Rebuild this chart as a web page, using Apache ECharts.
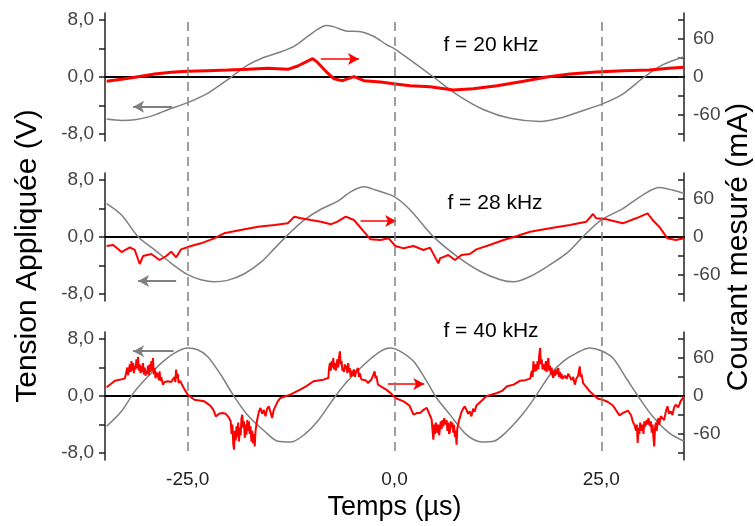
<!DOCTYPE html>
<html>
<head>
<meta charset="utf-8">
<title>Tension appliquée / courant mesuré</title>
<script src="https://cdn.jsdelivr.net/npm/echarts@6/dist/echarts.min.js"></script>
<style>
  html, body { margin: 0; padding: 0; background: #fff; }
  #main { width: 755px; height: 526px; }
</style>
</head>
<body>
<div id="main"></div>
<script>
// ticks
var xTicks = [-25, 0, 25];
var vLabelTicks = [-8, 0, 8];
var vTicks = [-8, -4, 0, 4, 8];
var iLabelTicks = [-60, 0, 60];
var iTicks = [-90, -60, -30, 0, 30, 60, 90];
var freqLabels = ['f = 20 kHz', 'f = 28 kHz', 'f = 40 kHz'];

// f = 20 kHz : tension (V) et courant (mA) en fonction du temps (µs)
var v20 = [[-34.8,-5.9],[-33.0,-6.1],[-31.4,-6.0],[-29.4,-5.5],[-27.4,-4.6],[-25.0,-3.6],[-22.6,-2.3],[-20.2,-0.4],
  [-19.4,0.3],[-17.7,1.7],[-16.1,2.6],[-14.1,3.4],[-12.1,4.35],[-10.5,5.7],[-9.3,6.7],[-8.3,7.25],[-7.3,7.05],
  [-5.7,6.45],[-4.3,6.4],[-2.5,5.7],[-0.9,4.5],[0.1,3.9],[1.9,2.4],[4.7,0],[7.6,-2.5],[10.8,-4.6],[14.0,-5.8],
  [17.6,-6.25],[20.4,-5.65],[22.8,-4.7],[25.0,-3.85],[27.6,-2.4],[30.2,0],[32.4,1.7],[35.0,2.85]];
var i20 = [[-34.8,-6.8],[-33.0,-3.7],[-31.0,0.5],[-29.0,4.7],[-27.0,7.4],[-25.0,8.9],[-22.6,10],[-20.2,11],
  [-17.7,12.1],[-15.3,13.7],[-12.9,12.1],[-11.7,17.4],[-9.9,29],[-9.3,23],[-8.3,9],[-7.3,-3],[-6.3,-5.8],
  [-4.9,0.5],[-3.7,-5.8],[-1.7,-7.9],[0.1,-11],[1.9,-13.7],[4.3,-15.3],[7.1,-20.5],[9.5,-18.4],[12.4,-13.7],
  [15.6,-6.8],[18.4,0],[21.2,4.7],[24.4,7.9],[27.6,10],[30.8,11],[33.2,13.7],[35.0,15.3]];

// f = 28 kHz
var v28 = [[-34.8,4.7],[-33.0,3.1],[-31.0,0.05],[-29.0,-1.8],[-27.0,-3.7],[-25.0,-5.3],[-23.4,-6.0],[-21.8,-6.3],
  [-20.2,-6.1],[-18.2,-5.2],[-16.1,-3.5],[-14.5,-1.6],[-12.9,0.3],[-10.9,2.4],[-8.9,3.9],[-6.9,5.0],[-5.3,6.35],
  [-3.7,7.05],[-2.3,6.6],[0,5.65],[1.9,3.8],[4.7,0.05],[7.6,-2.75],[10.4,-4.85],[12.8,-6.0],[14.4,-6.3],
  [16.4,-5.55],[18.8,-3.9],[20.9,-2.2],[22.8,0.05],[25.0,2.4],[27.6,4.0],[30.0,5.9],[32.0,6.95],[33.6,6.6],[35.0,6.1]];
var i28 = [[-34.8,-14.2],[-34.0,-12.6],[-33.0,-23.7],[-32.0,-16.3],[-31.4,-20.5],[-30.8,-42.6],[-30.4,-30],
  [-29.4,-26.8],[-28.4,-36.3],[-27.6,-30],[-27.0,-23.2],[-26.4,-32.1],[-25.8,-19.5],[-24.6,-14.2],[-23.4,-10],
  [-21.8,-2.1],[-20.6,5.8],[-18.6,11],[-16.5,16.3],[-14.5,18.9],[-12.9,21.6],[-12.1,32.1],[-11.3,29.5],
  [-10.1,26.8],[-8.9,24.2],[-7.7,20],[-6.9,24.2],[-5.9,32.1],[-4.9,26.8],[-3.7,8.4],[-2.9,-3.7],[-1.7,-4.7],
  [-0.7,-2.1],[0.1,-14.2],[1.1,-17.9],[2.3,-14.2],[3.5,-20.5],[4.3,-16.8],[5.3,-41.6],[5.5,-33.7],[6.5,-28.4],
  [7.3,-36.3],[8.1,-28.4],[9.1,-26.8],[9.9,-19.5],[11.5,-12.6],[13.2,-4.7],[14.8,1.6],[16.4,8.4],[18.8,13.7],
  [21.2,18.9],[23.2,24.2],[24.0,36.3],[24.4,29.5],[25.6,27.9],[27.6,21.6],[29.2,29.5],[30.6,37.4],[31.2,26.8],
  [32.0,16.3],[33.0,-2.1],[34.0,-4.7],[35.0,-2.1]];

// f = 40 kHz
var v40 = [[-34.8,-4.26],[-33.0,-2.15],[-31.4,0.65],[-29.8,2.76],[-28.2,4.63],[-26.6,6.04],[-25.0,6.74],[-23.8,6.5],
  [-22.6,5.57],[-21.0,2.99],[-19.4,-0.05],[-17.8,-2.62],[-15.7,-4.96],[-14.1,-6.36],[-12.5,-6.46],[-10.9,-5.43],
  [-9.3,-3.56],[-7.3,-0.28],[-5.7,2.06],[-3.7,4.4],[-1.7,6.27],[-0.5,6.74],[0.7,6.27],[2.3,4.87],[3.9,2.06],
  [5.1,-0.28],[6.7,-2.62],[8.7,-5.43],[10.6,-6.46],[12.0,-6.36],[13.6,-4.96],[15.6,-2.39],[17.2,0.19],[18.8,2.99],
  [20.4,4.87],[22.0,6.04],[23.6,6.74],[25.0,6.36],[26.4,5.33],[28.0,2.53],[29.6,-0.28],[31.2,-2.85],[33.2,-5.19],[35.0,-6.36]];
var i40 = [[-34.8,13.7],[-33.8,24.2],[-32.6,27.4],[-32.4,30],[-32.3,45],[-32.2,33],[-32.0,50],[-31.9,38],[-31.8,55],
  [-31.7,40],[-31.6,52],[-31.5,36],[-31.4,48],[-31.3,42],[-31.2,58],[-31.1,44],[-31.0,62],[-30.9,40],[-30.8,50],
  [-30.7,36],[-30.6,47],[-30.5,38],[-30.4,52],[-30.3,34],[-30.2,45],[-30.1,32],[-30.0,40],[-29.9,35],[-29.8,48],
  [-29.7,33],[-29.6,50],[-29.5,38],[-29.4,55],[-29.3,40],[-29.2,60],[-29.1,34],[-29.0,44],[-28.9,28],[-28.8,38],
  [-28.7,30],[-28.6,36],[-28.5,25],[-28.4,39],[-28.3,24],[-28.2,30],[-28.0,18],[-27.8,22],[-27.4,23.2],[-27.0,22],
  [-26.8,25],[-26.6,30],[-26.5,22],[-26.4,41.6],[-26.3,28],[-26.2,35],[-26.1,20.5],[-25.9,24],[-25.6,15.3],
  [-25.0,2.1],[-24.2,-5.8],[-23.0,-8.4],[-22.6,-12],[-22.2,-16.3],[-21.9,-22],[-21.6,-32.1],[-21.2,-28],
  [-20.8,-26.8],[-20.4,-28],[-20.0,-34.7],[-19.8,-40],[-19.7,-60],[-19.6,-45],[-19.5,-75],[-19.4,-84.7],
  [-19.3,-55],[-19.2,-70],[-19.1,-48],[-19.0,-65],[-18.9,-42],[-18.8,-71.6],[-18.7,-50],[-18.6,-62],[-18.5,-35],
  [-18.4,-29.5],[-18.3,-50],[-18.2,-40],[-18.1,-66],[-18.0,-45],[-17.9,-61],[-17.8,-38],[-17.7,-55],[-17.6,-40],
  [-17.5,-60],[-17.4,-48],[-17.3,-72],[-17.2,-55],[-17.1,-75],[-17.0,-60],[-16.9,-79.5],[-16.8,-55],[-16.7,-45],
  [-16.6,-37.4],[-16.4,-25],[-16.2,-18.9],[-16.0,-28],[-15.8,-22],[-15.6,-32.1],[-15.4,-20],[-15.2,-16.3],
  [-15.0,-25],[-14.8,-34.7],[-14.6,-22],[-14.4,-16.3],[-14.1,-8],[-13.8,-3.2],[-12.6,2.1],[-11.4,10],[-10.6,16],
  [-9.8,23.2],[-8.6,25.8],[-8.0,28.4],[-7.9,45],[-7.8,52.1],[-7.7,40],[-7.6,55],[-7.5,45],[-7.4,60],[-7.3,42],
  [-7.2,52],[-7.1,40],[-7.0,49.5],[-6.9,58],[-6.8,45],[-6.7,62],[-6.6,70.5],[-6.5,50],[-6.4,55],[-6.3,40],
  [-6.2,44.2],[-6.1,38],[-6.0,50],[-5.9,42],[-5.8,48],[-5.7,36],[-5.6,52.1],[-5.5,38],[-5.4,44],[-5.3,30],
  [-5.2,40],[-5.1,32],[-5.0,33.7],[-4.9,42],[-4.8,30],[-4.6,40],[-4.4,44.2],[-4.3,30],[-4.2,36],[-4.0,26],
  [-3.8,23.2],[-3.5,25],[-3.2,20.5],[-2.8,26],[-2.6,32],[-2.4,38.9],[-2.3,28],[-2.2,32],[-2.0,17.9],[-1.5,14],
  [-1.0,10],[-0.5,5],[0.1,-3.2],[1.1,-8.4],[1.8,-15],[2.3,-29.5],[2.7,-27],[3.1,-26.8],[3.5,-22],[3.9,-18.9],
  [4.2,-28],[4.5,-37.4],[4.6,-55],[4.7,-69],[4.8,-45],[4.9,-60],[5.0,-42],[5.1,-40],[5.2,-58],[5.3,-45],
  [5.4,-62],[5.5,-61],[5.6,-40],[5.7,-52],[5.8,-38],[5.9,-48],[6.0,-35],[6.1,-34.7],[6.2,-45],[6.3,-38],
  [6.4,-55],[6.5,-42],[6.6,-60],[6.7,-55.8],[6.8,-40],[6.9,-50],[7.0,-42],[7.1,-58],[7.2,-45.3],[7.3,-65],
  [7.4,-55],[7.5,-76.8],[7.6,-50],[7.7,-45],[7.8,-38],[7.9,-34.7],[8.1,-25],[8.3,-20],[8.5,-16.3],[8.7,-22],
  [8.9,-28],[9.1,-24],[9.3,-32.1],[9.5,-20],[9.7,-25],[9.9,-15],[10.1,-13.7],[10.5,-8],[11.1,-0.5],[12.4,4.7],
  [13.0,8],[13.6,15.3],[14.4,18],[15.2,24.2],[15.8,25],[16.4,27.4],[16.6,40],[16.7,30],[16.8,54.7],[16.9,38],
  [17.0,50],[17.1,40],[17.2,44.2],[17.3,55],[17.4,42],[17.5,65],[17.6,75.8],[17.7,50],[17.8,58],[17.9,42],
  [18.0,38.9],[18.1,50],[18.2,40],[18.3,55],[18.4,38],[18.5,52],[18.6,60],[18.7,40],[18.8,48],[18.9,34],
  [19.0,45],[19.1,32],[19.2,28.4],[19.3,40],[19.4,32],[19.5,42],[19.6,34],[19.7,40],[19.8,44.2],[19.9,30],
  [20.0,38],[20.1,28],[20.2,35],[20.3,27],[20.4,25.8],[20.6,32],[20.8,27],[21.0,35],[21.2,33.7],[21.4,25],
  [21.6,30],[21.8,17.9],[22.0,28],[22.2,32],[22.3,40],[22.4,46.8],[22.5,30],[22.6,35],[22.8,20.5],[23.2,14],
  [23.6,7.4],[24.2,0],[24.6,-4.2],[25.2,-6],[25.8,-9.5],[26.4,-15],[27.2,-30.5],[27.6,-27],[28.2,-23.2],
  [28.6,-30],[28.8,-40],[29.0,-45.3],[29.2,-55],[29.3,-45],[29.4,-74.2],[29.5,-50],[29.6,-60],[29.7,-42],
  [29.8,-40],[29.9,-55],[30.0,-45],[30.1,-60],[30.2,-40],[30.3,-48],[30.4,-50.5],[30.5,-38],[30.6,-45],
  [30.7,-35],[30.8,-32.1],[30.9,-48],[31.0,-40],[31.1,-58],[31.2,-45],[31.3,-65],[31.4,-79.5],[31.5,-50],
  [31.6,-42],[31.7,-55],[31.8,-40],[31.9,-35],[32.0,-45],[32.2,-32],[32.4,-29.5],[32.6,-38],[32.8,-25],
  [33.0,-16.3],[33.2,-28],[33.4,-24.2],[33.6,-30],[33.8,-18],[34.0,-13.7],[34.3,-18],[34.6,-8],[35.0,-0.5]];

(function () {
  var dom = document.getElementById('main');
  var myChart = echarts.init(dom);

  var font = '"Liberation Sans", Arial, sans-serif';
  var volts = [v20, v28, v40];
  var amps = [i20, i28, i40];
  var gridTops = [13, 173, 332];
  // fleches (gris -> axe gauche, rouge -> axe droit)
  var grayArrows = [[[-26.9, -4.2], [-31.6, -4.2]], [[-26.4, -6.2], [-31.0, -6.2]], [[-26.7, 6.3], [-31.6, 6.3]]];
  var redArrows = [[[-8.9, 28.4], [-4.3, 28.4]], [[-4.1, 25.3], [0.2, 25.3]], [[-0.8, 19], [3.6, 19]]];
  var labelPos = [[491, 45], [495, 203], [491, 331]];

  var grid = [], xAxis = [], yAxis = [], series = [], graphic = [];

  for (var p = 0; p < 3; p++) {
    grid.push({ left: 105, right: 71, top: gridTops[p], height: 128 });
    // axe x : seulement la ligne du zero
    xAxis.push({
      type: 'value', gridIndex: p, min: -35, max: 35,
      axisLine: { show: true, onZero: true, lineStyle: { color: '#000', width: 2 } },
      axisTick: { show: false }, axisLabel: { show: false }, splitLine: { show: false }
    });
    yAxis.push({
      type: 'value', gridIndex: p, position: 'left', min: -9, max: 9,
      axisLine: { show: true, onZero: false, lineStyle: { color: '#222', width: 1.5 } },
      axisTick: { show: true, length: 6, customValues: vTicks, lineStyle: { color: '#222', width: 1.5 } },
      axisLabel: {
        customValues: vLabelTicks, margin: 11, color: '#444', fontSize: 19, fontFamily: font,
        formatter: function (v) { return v.toFixed(1).replace('.', ','); }
      },
      splitLine: { show: false }
    });
    yAxis.push({
      type: 'value', gridIndex: p, position: 'right', min: -101, max: 101,
      axisLine: { show: true, onZero: false, lineStyle: { color: '#222', width: 1.5 } },
      axisTick: { show: true, inside: true, length: 6, customValues: iTicks, lineStyle: { color: '#222', width: 1.5 } },
      axisLabel: { customValues: iLabelTicks, margin: 9, color: '#444', fontSize: 19, fontFamily: font },
      splitLine: { show: false }
    });

    series.push({
      type: 'line', xAxisIndex: p, yAxisIndex: 2 * p, data: volts[p],
      showSymbol: false, smooth: 0.3, z: 3,
      lineStyle: { color: '#808080', width: 1.5 },
      markLine: {
        silent: true, symbol: ['none', 'arrow'], symbolSize: [9, 11],
        label: { show: false },
        lineStyle: { color: '#808080', width: 2, type: 'solid' },
        data: [[{ coord: grayArrows[p][0] }, { coord: grayArrows[p][1] }]]
      }
    });
    series.push({
      type: 'line', xAxisIndex: p, yAxisIndex: 2 * p + 1, data: amps[p],
      showSymbol: false, z: 4,
      lineStyle: { color: '#ff0000', width: p === 0 ? 3 : 2 },
      markLine: {
        silent: true, symbol: ['none', 'arrow'], symbolSize: [9, 11],
        label: { show: false },
        lineStyle: { color: '#ff0000', width: 1.5, type: 'solid' },
        data: [[{ coord: redArrows[p][0] }, { coord: redArrows[p][1] }]]
      }
    });

    graphic.push({
      type: 'text', x: labelPos[p][0], y: labelPos[p][1],
      style: { text: freqLabels[p], fill: '#000', font: '21px ' + font, textAlign: 'center', textVerticalAlign: 'middle' }
    });
  }

  // grille commune : lignes pointillees + axe du temps
  grid.push({ left: 105, right: 71, top: 20, height: 445 });
  xAxis.push({
    type: 'value', gridIndex: 3, min: -35, max: 35,
    axisLine: { show: false }, axisTick: { show: false }, splitLine: { show: false },
    axisLabel: {
      customValues: xTicks, margin: 19, color: '#222', fontSize: 19, fontFamily: font,
      formatter: function (v) { return v.toFixed(1).replace('.', ','); }
    },
    name: 'Temps (µs)', nameLocation: 'middle', nameGap: 38,
    nameTextStyle: { color: '#000', fontSize: 27, fontFamily: font }
  });
  yAxis.push({ type: 'value', gridIndex: 3, min: 0, max: 1, show: false });
  series.push({
    type: 'line', xAxisIndex: 3, yAxisIndex: 6, data: [[-35, 0]], z: 1,
    showSymbol: false, lineStyle: { opacity: 0 },
    markLine: {
      silent: true, symbol: ['none', 'none'], label: { show: false },
      lineStyle: { color: '#808080', width: 1.5, type: [9, 6] },
      data: xTicks.map(function (t) { return { xAxis: t }; })
    }
  });

  graphic.push({
    type: 'text', x: 28, y: 256, rotation: Math.PI / 2,
    style: { text: 'Tension Appliquée (V)', fill: '#000', font: '30px ' + font, textAlign: 'center', textVerticalAlign: 'middle' }
  });
  graphic.push({
    type: 'text', x: 739, y: 247, rotation: Math.PI / 2,
    style: { text: 'Courant mesuré (mA)', fill: '#000', font: '30px ' + font, textAlign: 'center', textVerticalAlign: 'middle' }
  });

  var option = {
    animation: false,
    backgroundColor: '#fff',
    grid: grid,
    xAxis: xAxis,
    yAxis: yAxis,
    series: series,
    graphic: graphic
  };

  if (option && typeof option === 'object') {
    myChart.setOption(option);
  }
})();
</script>
</body>
</html>
